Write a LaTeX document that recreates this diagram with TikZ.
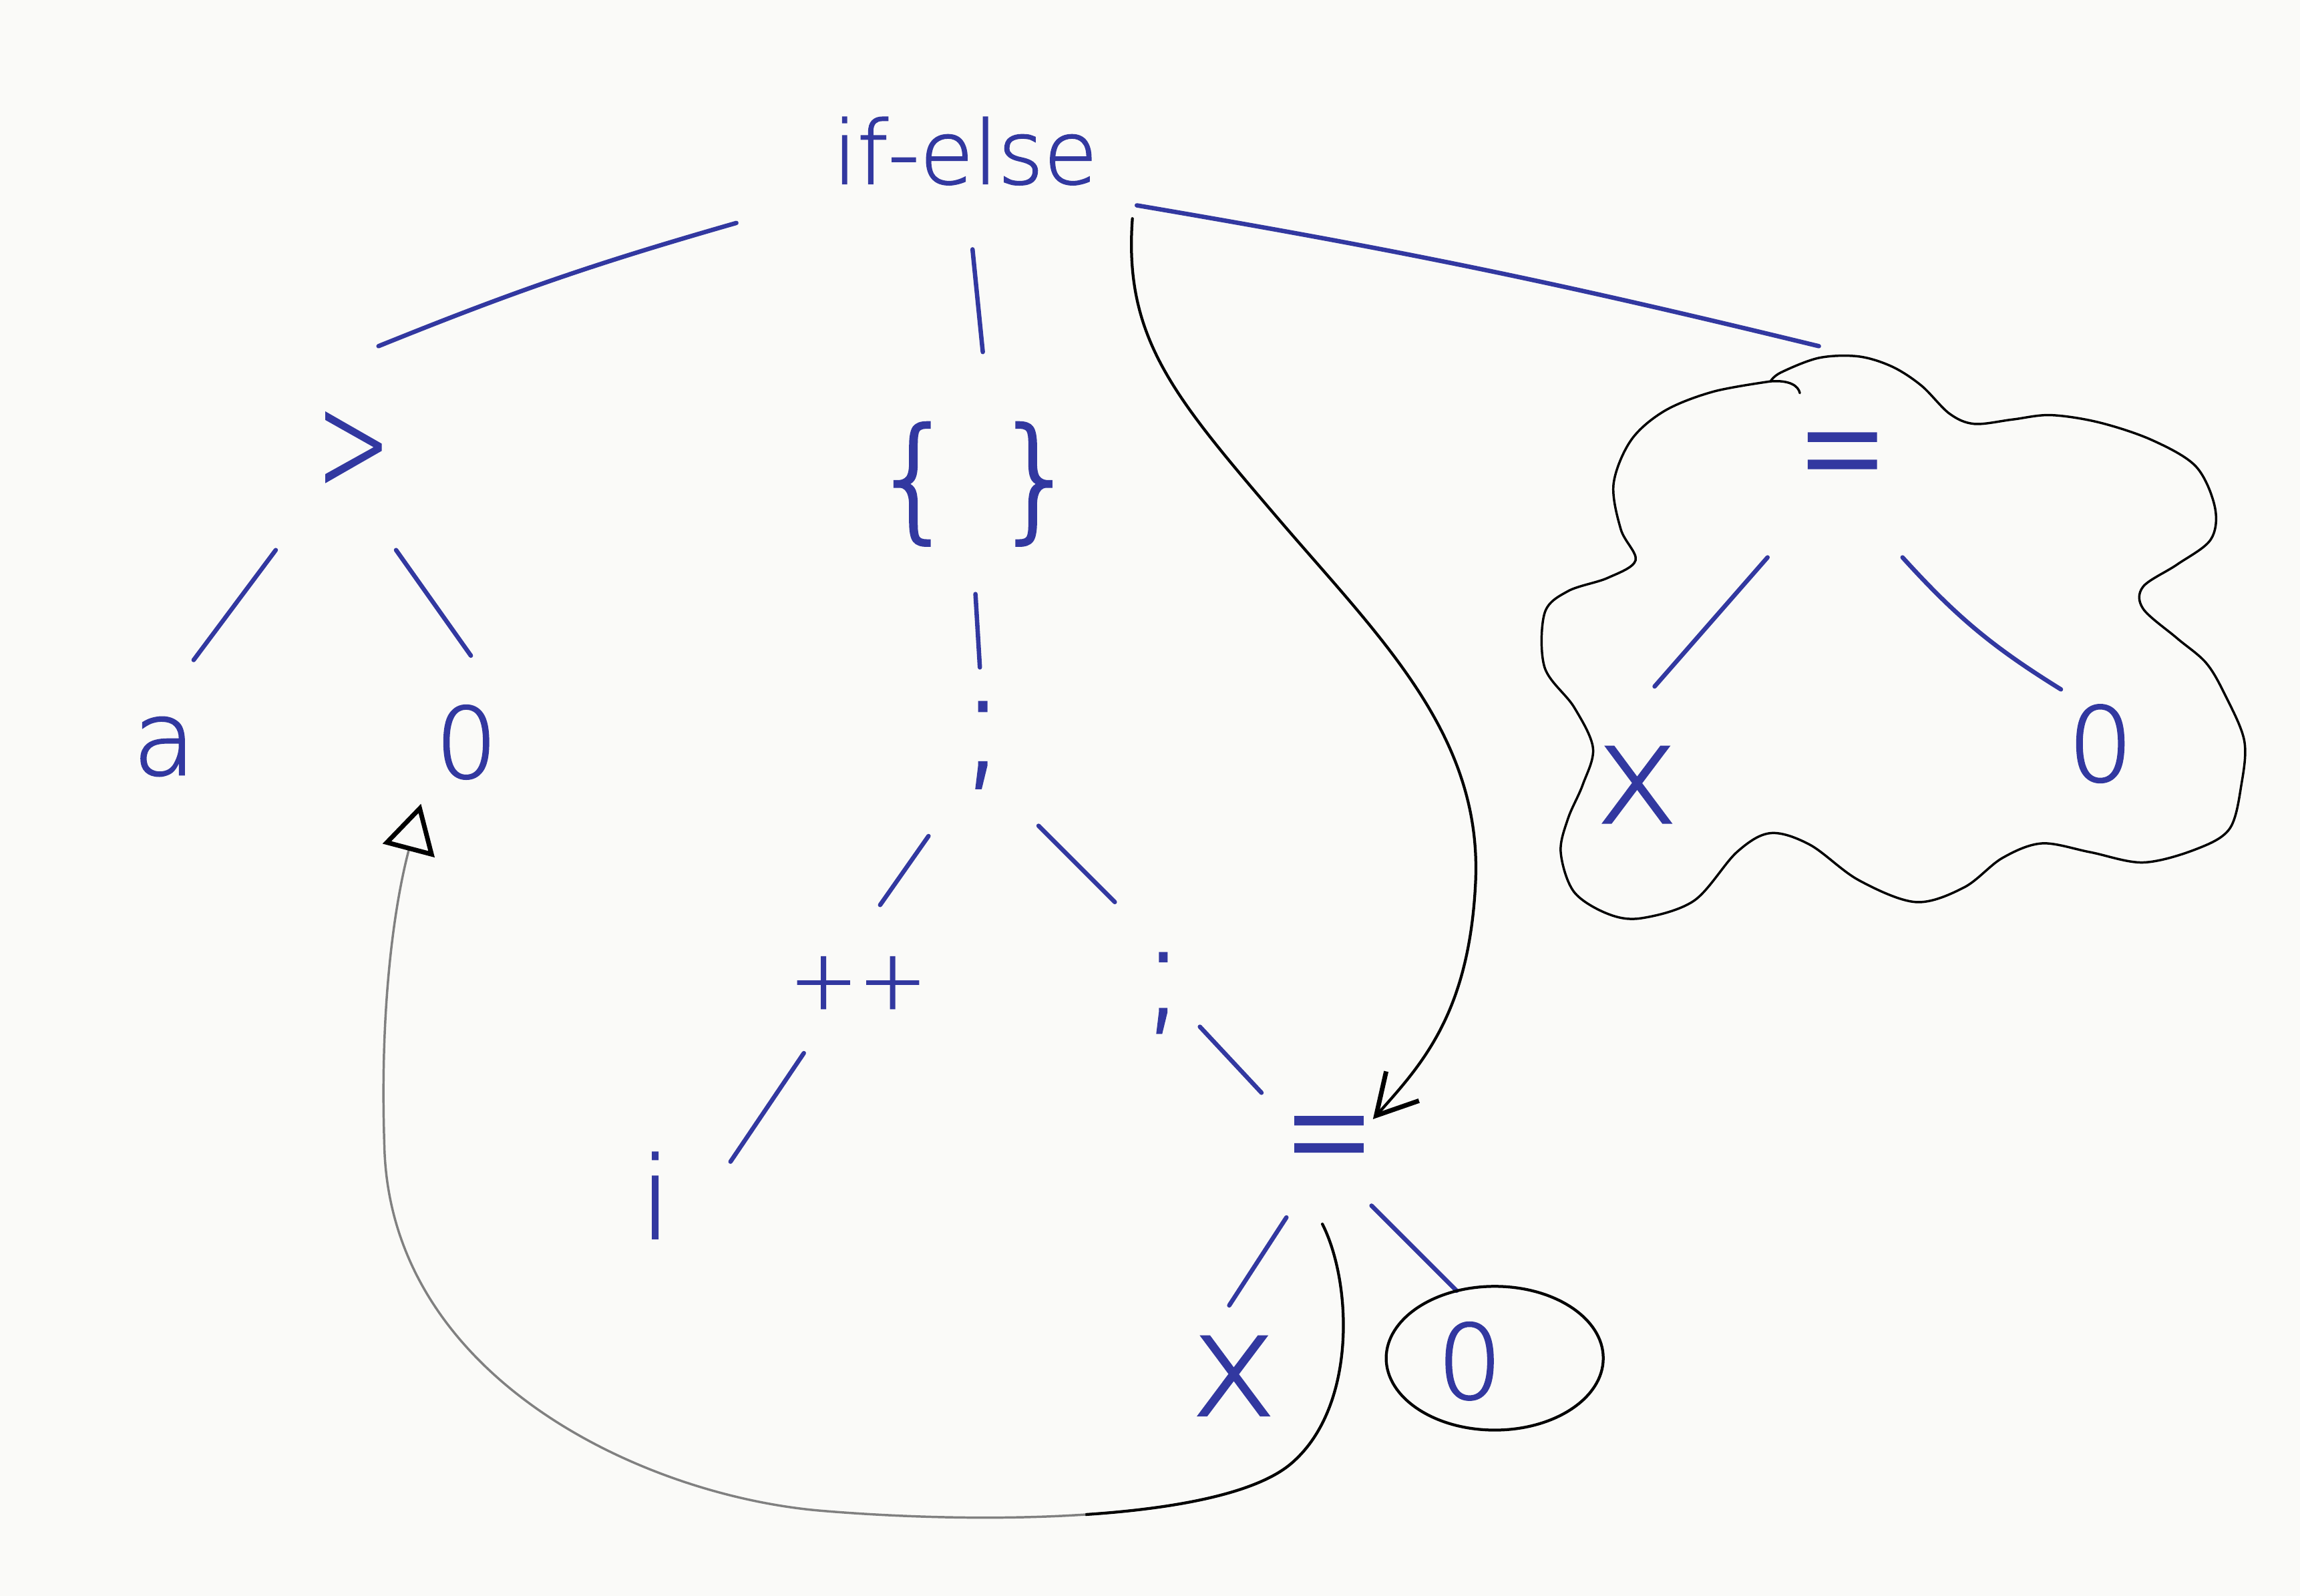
\documentclass[tikz,border=0pt]{standalone}
\usepackage{fontspec}
\newfontfamily\hand[FakeBold=1.5]{DejaVu Sans ExtraLight}
\usetikzlibrary{arrows.meta,calc}
\definecolor{ink}{RGB}{50,56,160}
\definecolor{paper}{RGB}{250,250,248}
\tikzset{
  lab/.style={text=ink, inner sep=0pt, font=\hand\fontsize{#1}{#1}\selectfont},
  branch/.style={draw=ink, line width=0.85pt, line cap=round},
  pencil/.style={draw=black, line width=0.55pt, line cap=round},
  faint/.style={draw=black!50, line width=0.45pt, line cap=round},
}
\begin{document}
\begin{tikzpicture}
\fill[paper] (0,0) rectangle (15.68,-10.88);
\useasboundingbox (0,0) rectangle (15.68,-10.88);

% ---- labels of the syntax tree ----
\node[lab=17] (ifelse) at (6.58,-1.03) {if-else};
\node[lab=18] (gt)     at (2.41,-3.08) {\scalebox{0.95}[1.5]{>}};
\node[lab=26] (br)     at (6.65,-3.30) {\{\hspace{0.25cm}\}};
\node[lab=21] (eqR)    at (12.56,-3.20) {\scalebox{1}[1.6]{=}};
\node[lab=20] (a)      at (1.12,-5.09) {a};
\node[lab=19] (zL)     at (3.18,-5.06) {0};
\node[lab=28] (s1)     at (6.70,-5.08) {;};
\node[lab=16] (pp)     at (5.85,-6.70) {++};
\node[lab=26] (s2)     at (7.93,-6.77) {;};
\node[lab=22] (iN)     at (4.47,-8.15) {i};
\node[lab=21] (eqB)    at (9.06,-7.86) {\scalebox{1}[1.6]{=}};
\node[lab=28] (xB)     at (8.41,-9.38) {x};
\node[lab=20] (zB)     at (10.02,-9.28) {0};
\node[lab=27] (xR)     at (11.16,-5.35) {x};
\node[lab=20] (zR)     at (14.32,-5.07) {0};

% ---- tree branches ----
\draw[branch] ([shift={(-1.56,-0.49)}]ifelse.center) to[bend right=3] ([shift={(0.17,0.72)}]gt.center);
\draw[branch] ([shift={(0.05,-0.67)}]ifelse.center) -- ([shift={(0.05,0.90)}]br.center);
\draw[branch] ([shift={(1.17,-0.37)}]ifelse.center) to[bend left=2] ([shift={(-0.16,0.84)}]eqR.center);
\draw[branch] ([shift={(-0.53,-0.67)}]gt.center) -- ([shift={(0.20,0.59)}]a.center);
\draw[branch] ([shift={(0.29,-0.67)}]gt.center) -- ([shift={(0.03,0.59)}]zL.center);
\draw[branch] ([shift={(0,-0.75)}]br.center) -- ([shift={(-0.02,0.53)}]s1.center);
\draw[branch] ([shift={(-0.37,-0.62)}]s1.center) -- ([shift={(0.15,0.53)}]pp.center);
\draw[branch] ([shift={(0.38,-0.55)}]s1.center) -- ([shift={(-0.33,0.62)}]s2.center);
\draw[branch] ([shift={(-0.37,-0.48)}]pp.center) -- ([shift={(0.51,0.23)}]iN.center);
\draw[branch] ([shift={(0.25,-0.23)}]s2.center) -- ([shift={(-0.46,0.41)}]eqB.center);
\draw[branch] ([shift={(-0.29,-0.44)}]eqB.center) -- ([shift={(-0.03,0.48)}]xB.center);
\draw[branch] ([shift={(0.29,-0.36)}]eqB.center) -- ([shift={(-0.09,0.48)}]zB.center);
\draw[branch] ([shift={(-0.51,-0.60)}]eqR.center) -- ([shift={(0.12,0.67)}]xR.center);
\draw[branch] ([shift={(0.41,-0.60)}]eqR.center) to[bend right=8] ([shift={(-0.27,0.37)}]zR.center);

% ---- ring round the lower 0 ----
\draw[pencil] ([shift={(0.17,0.02)}]zB.center) ellipse [x radius=0.74, y radius=0.49];

% ---- cloud round the right-hand subtree ----
\draw[pencil, line width=0.45pt] plot[smooth, tension=0.55] coordinates {
 (12.07,-2.60) (12.14,-2.54) (12.40,-2.44) (12.67,-2.43) (12.90,-2.50) (13.10,-2.63)
 (13.29,-2.82) (13.46,-2.89) (13.72,-2.86) (13.98,-2.83) (14.31,-2.88) (14.67,-3.00)
 (14.97,-3.18) (15.10,-3.46) (15.07,-3.68) (14.84,-3.85) (14.61,-4.00) (14.61,-4.15)
 (14.84,-4.35) (15.04,-4.52) (15.17,-4.74) (15.30,-5.05) (15.28,-5.35) (15.20,-5.65)
 (14.97,-5.79) (14.61,-5.88) (14.25,-5.81) (13.92,-5.75) (13.65,-5.85) (13.39,-6.05)
 (13.06,-6.15) (12.67,-6.00) (12.34,-5.76) (12.07,-5.68) (11.84,-5.81) (11.55,-6.14)
 (11.19,-6.26) (10.96,-6.23) (10.73,-6.08) (10.64,-5.81) (10.69,-5.58) (10.79,-5.35)
 (10.86,-5.10) (10.73,-4.82) (10.53,-4.55) (10.53,-4.18) (10.69,-4.03) (10.96,-3.94)
 (11.15,-3.82) (11.05,-3.61) (11.00,-3.30) (11.12,-3.00) (11.35,-2.80) (11.68,-2.67)
 (12.07,-2.60)};
\draw[pencil, line width=0.45pt] (12.07,-2.60) .. controls (12.20,-2.59) and (12.26,-2.63) .. (12.27,-2.68);

% ---- arrow from if-else down to the inner assignment ----
\coordinate (c1s) at ([shift={(1.14,-0.46)}]ifelse.center);
\coordinate (c1e) at ([shift={(0.30,0.23)}]eqB.center);
\coordinate (c1a) at (8.70,-3.52);
\coordinate (c1b) at (10.06,-6.00);
\draw[pencil, -{Straight Barb[length=0.27cm, width=0.30cm, line width=0.9pt]}]
  (c1s) .. controls (7.66,-2.30) and (8.00,-2.70) .. (c1a)
        .. controls (9.40,-4.34) and (10.10,-5.00) .. (c1b)
        .. controls (10.02,-6.90) and (9.70,-7.25) .. (c1e);

% ---- arrow from the assignment back to the first 0 ----
\coordinate (c2s) at ([shift={(-0.045,-0.485)}]eqB.center);
\coordinate (c2e) at ([shift={(-0.31,-0.42)}]zL.center);
\coordinate (c2a) at (8.80,-9.98);
\coordinate (c2b) at (5.60,-10.30);
\coordinate (c2c) at (2.62,-7.80);
\def\backpath{(c2s) .. controls (9.22,-8.75) and (9.25,-9.60) .. (c2a)
  .. controls (8.35,-10.36) and (6.80,-10.40) .. (c2b)
  .. controls (4.40,-10.20) and (2.65,-9.40) .. (c2c)
  .. controls (2.59,-6.90) and (2.68,-6.20) .. (c2e)}
\draw[faint, -{Triangle[open, length=0.33cm, width=0.36cm, line width=0.9pt, color=black]}] \backpath;
\begin{scope}
  \clip (7.4,-8.0) rectangle (9.6,-10.6);
  \draw[pencil] \backpath;
\end{scope}
\end{tikzpicture}
\end{document}
